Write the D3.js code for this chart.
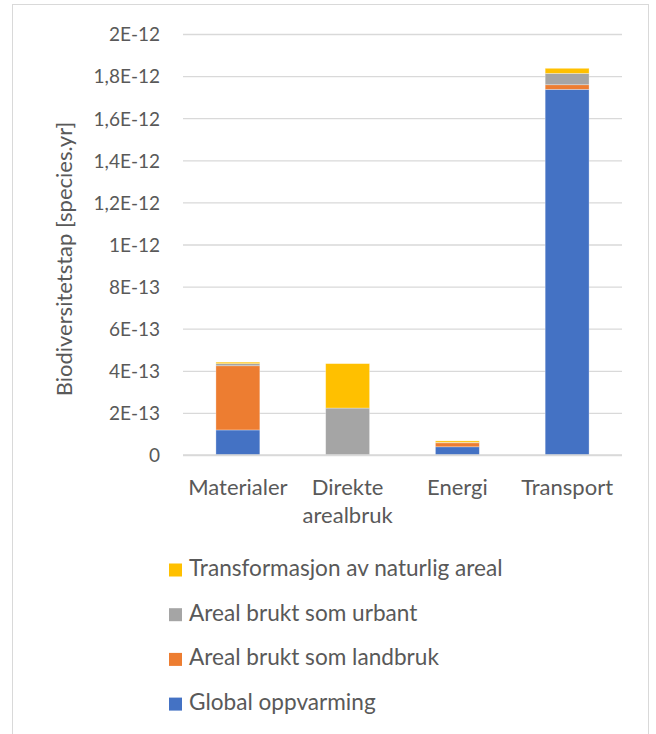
<html>
<head>
<meta charset="utf-8">
<style>
  body { margin: 0; background: #fff; font-family: Lato, "Open Sans", sans-serif; }
  #chart { width: 656px; height: 734px; }
  text { fill: #595959; }
</style>
</head>
<body>
<script src="https://d3js.org/d3.v7.min.js"></script>
<div id="chart"></div>
<script>
// categories and series (values in species.yr)
var categories = ["Materialer", "Direkte\narealbruk", "Energi", "Transport"];
var seriesNames = ["Global oppvarming", "Areal brukt som landbruk", "Areal brukt som urbant", "Transformasjon av naturlig areal"];
var globalOppvarming = [1.19e-13, 0, 0.39e-13, 17.37e-13];
var arealLandbruk    = [3.05e-13, 0, 0.19e-13, 0.22e-13];
var arealUrbant      = [0.10e-13, 2.23e-13, 0.02e-13, 0.54e-13];
var transformasjon   = [0.07e-13, 2.11e-13, 0.07e-13, 0.24e-13];
var colors = ["#4472C4", "#ED7D31", "#A5A5A5", "#FFC000"];
var yTicks = [0, 2e-13, 4e-13, 6e-13, 8e-13, 1e-12, 1.2e-12, 1.4e-12, 1.6e-12, 1.8e-12, 2e-12];
var yTickLabels = ["0", "2E-13", "4E-13", "6E-13", "8E-13", "1E-12", "1,2E-12", "1,4E-12", "1,6E-12", "1,8E-12", "2E-12"];

var W = 656, H = 734;
var svg = d3.select("#chart").append("svg")
  .attr("width", W).attr("height", H);

// outer chart border
svg.append("rect")
  .attr("x", 12.5).attr("y", 4.5)
  .attr("width", 636).attr("height", 740)
  .attr("fill", "none").attr("stroke", "#D9D9D9").attr("stroke-width", 1);

var x = d3.scaleBand()
  .domain(categories)
  .range([183, 622])
  .paddingInner(0.6)
  .paddingOuter(0.3);

var y = d3.scaleLinear()
  .domain([0, 2e-12])
  .range([455, 34]);

// gridlines + tick labels
svg.append("g")
  .attr("transform", "translate(183,0)")
  .call(d3.axisLeft(y).tickValues(yTicks)
    .tickFormat(function(d, i) { return yTickLabels[i]; })
    .tickSize(-439).tickPadding(23))
  .call(function(g) { g.select(".domain").remove(); })
  .call(function(g) {
    g.selectAll(".tick line").attr("stroke", "#D9D9D9").attr("stroke-width", 1.3);
    g.selectAll(".tick text").style("font-family", "Lato, sans-serif")
      .style("font-size", "19px").attr("fill", "#595959").attr("dy", "0.36em");
  });

// stacked data
var rows = categories.map(function(c, i) {
  return { cat: c, s0: globalOppvarming[i], s1: arealLandbruk[i], s2: arealUrbant[i], s3: transformasjon[i] };
});
var stack = d3.stack().keys(["s0", "s1", "s2", "s3"])(rows);

svg.append("g").selectAll("g")
  .data(stack)
  .join("g")
    .attr("fill", function(d, i) { return colors[i]; })
  .selectAll("rect")
  .data(function(d) { return d; })
  .join("rect")
    .attr("x", function(d) { return x(d.data.cat); })
    .attr("width", x.bandwidth())
    .attr("y", function(d) { return y(d[1]); })
    .attr("height", function(d) { return y(d[0]) - y(d[1]); })
    .attr("stroke", "#ffffff").attr("stroke-opacity", 0.4).attr("stroke-width", 0.75);

// baseline on top
svg.append("line")
  .attr("x1", 183).attr("x2", 622)
  .attr("y1", y(0)).attr("y2", y(0))
  .attr("stroke", "#D9D9D9").attr("stroke-width", 1.3);

// category labels
var catG = svg.append("g");
categories.forEach(function(c) {
  var t = catG.append("text")
    .attr("x", x(c) + x.bandwidth() / 2)
    .attr("y", 495)
    .attr("text-anchor", "middle")
    .style("font-size", "22px");
  c.split("\n").forEach(function(line, j) {
    t.append("tspan").attr("x", x(c) + x.bandwidth() / 2)
      .attr("dy", j === 0 ? 0 : 28).text(line);
  });
});

// y axis title
svg.append("text")
  .attr("transform", "translate(72,259) rotate(-90)")
  .attr("text-anchor", "middle")
  .style("font-size", "22px")
  .text("Biodiversitetstap [species.yr]");

// legend (reverse order, top = last series)
var legend = svg.append("g");
var order = [3, 2, 1, 0];
order.forEach(function(si, k) {
  var cy = 570 + k * 44.7;
  legend.append("rect")
    .attr("x", 169).attr("y", cy - 6.5)
    .attr("width", 13).attr("height", 13)
    .attr("fill", colors[si]);
  legend.append("text")
    .attr("x", 189).attr("y", cy + 6)
    .style("font-size", "22.6px")
    .text(seriesNames[si]);
});
</script>
</body>
</html>
